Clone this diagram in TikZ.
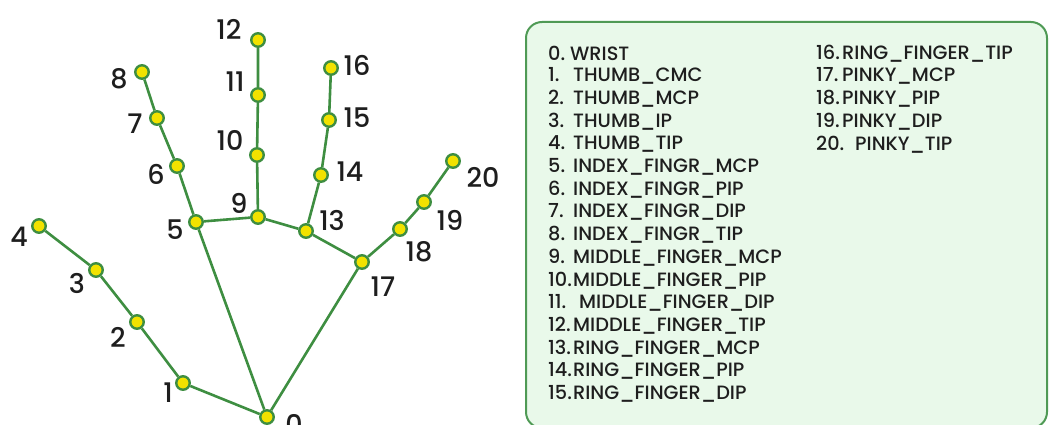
\documentclass[tikz,border=0pt]{standalone}
\usepackage{fontspec}
\setmainfont{Poppins}
\newfontfamily\medfont{Poppins Medium}
\newfontfamily\semifont{Poppins SemiBold}
\definecolor{hgreen}{HTML}{3E8E41}
\definecolor{hyellow}{HTML}{F2E200}
\definecolor{boxfill}{HTML}{E9F9EA}
\definecolor{boxline}{HTML}{4F9A55}
\definecolor{txt}{HTML}{1E1E1E}
\tikzset{
  kp/.style={circle, draw=hgreen, fill=hyellow, line width=2.4pt, minimum size=13.5pt, inner sep=0pt},
  bone/.style={draw=hgreen, line width=2.6pt},
  num/.style={text=txt, font=\medfont\fontsize{27}{27}\selectfont, inner sep=0pt},
  leg/.style={text=txt, font=\medfont\fontsize{19.3}{20}\selectfont, anchor=west, inner sep=0pt},
}
\newcommand{\lgn}[2]{\makebox[25pt][l]{#1}#2}
\begin{document}
\begin{tikzpicture}[x=1pt,y=-1pt]
\useasboundingbox (0,0) rectangle (1049,425);
% legend box
\draw[fill=boxfill, draw=boxline, line width=2pt, rounded corners=16pt] (526,22) rectangle (1047,428);
% keypoints
\coordinate (c0) at (267,417);
\coordinate (c1) at (183,383);
\coordinate (c2) at (137,322);
\coordinate (c3) at (96,270);
\coordinate (c4) at (39,226);
\coordinate (c5) at (196,222);
\coordinate (c6) at (177,166);
\coordinate (c7) at (157,118);
\coordinate (c8) at (142,72);
\coordinate (c9) at (258,217);
\coordinate (c10) at (257,155);
\coordinate (c11) at (258,95);
\coordinate (c12) at (258,40);
\coordinate (c13) at (306,231);
\coordinate (c14) at (321,175);
\coordinate (c15) at (329,120);
\coordinate (c16) at (331,68);
\coordinate (c17) at (362,262);
\coordinate (c18) at (400,229);
\coordinate (c19) at (424,202);
\coordinate (c20) at (453,161);
\foreach \i in {0,...,20} \node[kp] (p\i) at (c\i) {};
% bones drawn between node names
\draw[bone] (p0) -- (p1) (p1) -- (p2) (p2) -- (p3) (p3) -- (p4);
\draw[bone] (p0) -- (p5) (p5) -- (p6) (p6) -- (p7) (p7) -- (p8);
\draw[bone] (p5) -- (p9) (p9) -- (p10) (p10) -- (p11) (p11) -- (p12);
\draw[bone] (p9) -- (p13) (p13) -- (p14) (p14) -- (p15) (p15) -- (p16);
\draw[bone] (p13) -- (p17) (p0) -- (p17) (p17) -- (p18) (p18) -- (p19) (p19) -- (p20);
% labels
\node[num] (n0) at (294,424) {0};
\node[num] (n1) at (168,393) {1};
\node[num] (n2) at (118,337) {2};
\node[num] (n3) at (77,283) {3};
\node[num] (n4) at (19,237) {4};
\node[num] (n5) at (175,230) {5};
\node[num] (n6) at (156,174) {6};
\node[num] (n7) at (135,124) {7};
\node[num] (n8) at (119,79) {8};
\node[num] (n9) at (239,203) {9};
\node[num] (n10) at (230,140) {10};
\node[num] (n11) at (235,82) {11};
\node[num] (n12) at (229,29) {12};
\node[num] (n13) at (332,220) {13};
\node[num] (n14) at (350,172) {14};
\node[num] (n15) at (357,118) {15};
\node[num] (n16) at (357,65) {16};
\node[num] (n17) at (383,287) {17};
\node[num] (n18) at (419,252) {18};
\node[num] (n19) at (450,220) {19};
\node[num] (n20) at (483,177) {20};
% legend left column
\node[leg] (l0) at (548,53.5) {\makebox[22pt][l]{0.}WRIST};
\node[leg] (l1) at (548,76.2) {\lgn{1.}{THUMB\_CMC}};
\node[leg] (l2) at (548,98.9) {\lgn{2.}{THUMB\_MCP}};
\node[leg] (l3) at (548,121.6) {\lgn{3.}{THUMB\_IP}};
\node[leg] (l4) at (548,144.3) {\lgn{4.}{THUMB\_TIP}};
\node[leg] (l5) at (548,167.0) {\lgn{5.}{INDEX\_FINGR\_MCP}};
\node[leg] (l6) at (548,189.7) {\lgn{6.}{INDEX\_FINGR\_PIP}};
\node[leg] (l7) at (548,212.4) {\lgn{7.}{INDEX\_FINGR\_DIP}};
\node[leg] (l8) at (548,235.1) {\lgn{8.}{INDEX\_FINGR\_TIP}};
\node[leg] (l9) at (548,257.8) {\lgn{9.}{MIDDLE\_FINGER\_MCP}};
\node[leg] (l10) at (548,280.5) {\lgn{10.}{MIDDLE\_FINGER\_PIP}};
\node[leg] (l11) at (548,303.2) {\makebox[31pt][l]{11.}MIDDLE\_FINGER\_DIP};
\node[leg] (l12) at (548,325.9) {\lgn{12.}{MIDDLE\_FINGER\_TIP}};
\node[leg] (l13) at (548,348.6) {\lgn{13.}{RING\_FINGER\_MCP}};
\node[leg] (l14) at (548,371.3) {\lgn{14.}{RING\_FINGER\_PIP}};
\node[leg] (l15) at (548,394.0) {\lgn{15.}{RING\_FINGER\_DIP}};
% legend right column
\node[leg] (l16) at (816,53.5) {\makebox[26pt][l]{16.}RING\_FINGER\_TIP};
\node[leg] (l17) at (816,76.2) {\makebox[26pt][l]{17.}PINKY\_MCP};
\node[leg] (l18) at (816,98.9) {\makebox[26pt][l]{18.}PINKY\_PIP};
\node[leg] (l19) at (816,121.6) {\makebox[26pt][l]{19.}PINKY\_DIP};
\node[leg] (l20) at (816,144.3) {\makebox[39pt][l]{20.}PINKY\_TIP};
\end{tikzpicture}
\end{document}
